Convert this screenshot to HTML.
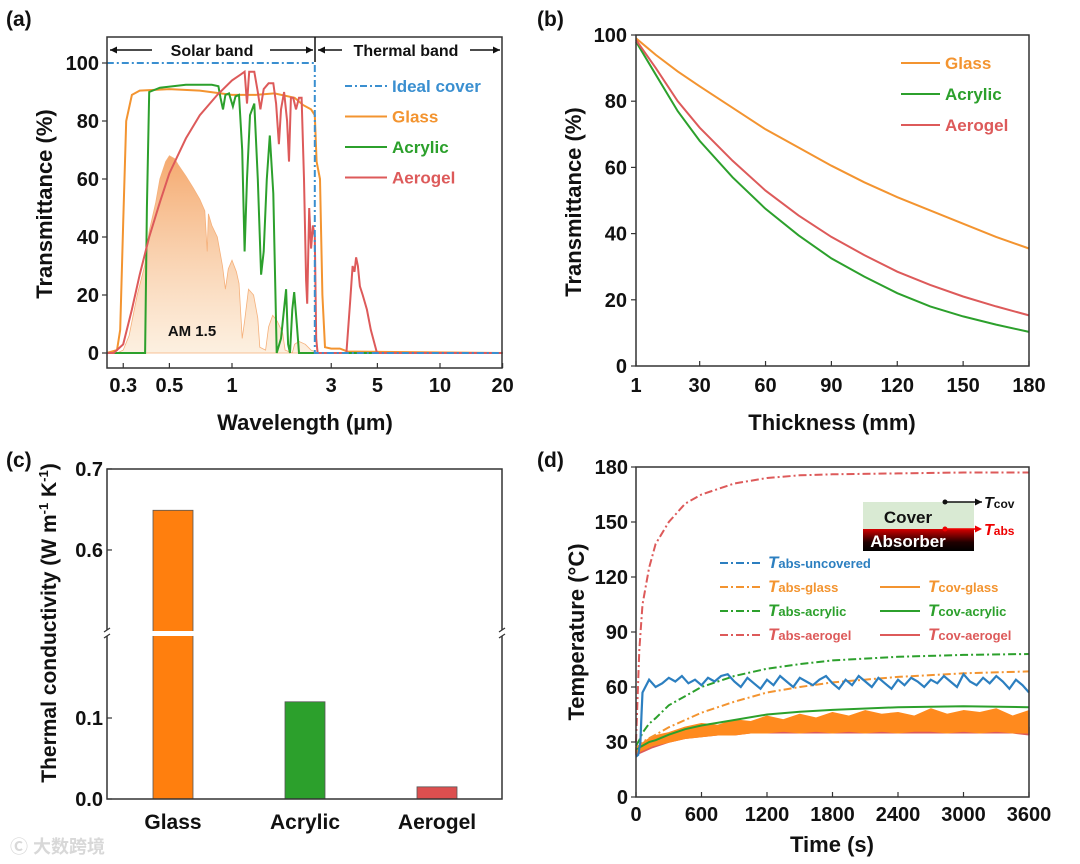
<!DOCTYPE html>
<html><head><meta charset="utf-8">
<style>
html,body{margin:0;padding:0;background:#fff;}
svg{display:block;font-family:"Liberation Sans",Arial,sans-serif;font-weight:bold;}
</style></head>
<body>
<svg id="fig" width="1080" height="864" viewBox="0 0 1080 864" xmlns="http://www.w3.org/2000/svg">
<defs>
<linearGradient id="amg" x1="0" y1="0" x2="0" y2="1">
<stop offset="0" stop-color="#f39a55" stop-opacity="0.85"/>
<stop offset="1" stop-color="#fbe6cc" stop-opacity="0.6"/>
</linearGradient>
<linearGradient id="absg" x1="0" y1="0" x2="0" y2="1">
<stop offset="0" stop-color="#d40000"/>
<stop offset="0.6" stop-color="#200000"/>
<stop offset="1" stop-color="#000"/>
</linearGradient>
</defs>
</svg>
<script>
// ---------- Panel (a) data ----------
const amWl  = [0.28,0.30,0.32,0.35,0.38,0.40,0.43,0.45,0.48,0.50,0.53,0.55,0.60,0.65,0.70,0.74,0.76,0.77,0.80,0.85,0.90,0.93,0.96,1.00,1.05,1.08,1.12,1.15,1.20,1.27,1.33,1.36,1.45,1.50,1.57,1.65,1.75,1.80,1.95,2.00,2.10,2.25,2.40,2.50];
const amVal = [0,1,6,20,30,42,52,60,66,68,67,65,61,57,53,49,35,48,44,40,30,22,29,32,28,24,5,11,22,20,12,2,1,9,13,11,7,1,0,3,4,3,1,0.5];
const glassWl  = [0.25,0.28,0.29,0.30,0.31,0.33,0.36,0.5,0.7,1.0,1.3,1.6,2.0,2.2,2.4,2.5,2.55,2.65,2.72,2.8,3.0,3.3,3.6,4.0,20];
const glassVal = [0,1,8,45,80,89,90.5,91,90.5,89,89,89.5,88,85.5,84,82,66,60,20,2,1.5,1.5,0.5,0.5,0];
const acrWl  = [0.25,0.382,0.39,0.40,0.45,0.6,0.8,0.86,0.88,0.905,0.93,0.967,1.01,1.04,1.08,1.12,1.15,1.18,1.22,1.28,1.33,1.38,1.42,1.47,1.52,1.58,1.64,1.72,1.82,1.86,1.90,1.95,1.99,2.05,2.1,20];
const acrVal = [0,0,50,90,91.5,92.5,92.5,92,88,84,89,89.5,85,88.5,89,70,35,60,82,86,60,27,35,60,75,55,0,5,22,3,0,15,21,10,0,0];
const aerWl  = [0.25,0.27,0.30,0.33,0.36,0.40,0.45,0.50,0.60,0.70,0.85,1.00,1.10,1.15,1.18,1.21,1.28,1.33,1.37,1.42,1.50,1.58,1.63,1.68,1.72,1.78,1.84,1.88,1.92,1.97,2.03,2.10,2.16,2.22,2.27,2.30,2.35,2.40,2.45,2.50,2.54,2.58,3.55,3.70,3.80,3.88,3.95,4.03,4.12,4.25,4.45,4.65,4.98,20];
const aerVal = [0,0,3,15,27,40,52,62,74,82,89,94,96,97,86,97,97,90,84,91,93,93,86,72,84,90,80,66,88,88,84,88,88,60,25,17,50,36,44,40,5,0,0,18,30,28,33,30,23,20,15,8,0,0];
const idealWl  = [0.25,2.5,2.5,20];
const idealVal = [100,100,0,0];
const aTicksX = [0.3,0.5,1,3,5,10,20];
const aTickLabelsX = ["0.3","0.5","1","3","5","10","20"];
const aTicksY = [0,20,40,60,80,100];
// ---------- Panel (b) data ----------
const thick = [1,10,20,30,45,60,75,90,105,120,135,150,165,180];
const bGlass = [99,94,89,84.5,78,71.5,66,60.5,55.5,51,47,43,39,35.5];
const bAcrylic = [98,88,77,68,57,47.5,39.5,32.5,27,22,18,15,12.5,10.3];
const bAerogel = [98.5,90,80,72,62,53,45.5,39,33.5,28.5,24.5,21,18,15.3];
const bTicksX = [1,30,60,90,120,150,180];
const bTicksY = [0,20,40,60,80,100];
// ---------- Panel (c) data ----------
const cCats = ["Glass","Acrylic","Aerogel"];
const cVals = [0.649,0.12,0.015];
const cTicks = [0.0,0.1,0.6,0.7];
const cTickLabels = ["0.0","0.1","0.6","0.7"];
// ---------- Panel (d) data ----------
const dTicksX = [0,600,1200,1800,2400,3000,3600];
const dTicksY = [0,30,60,90,120,150,180];
const tSmooth = [0,30,60,120,180,300,450,600,900,1200,1500,1800,2400,3000,3600];
const absAerogel = [30,80,105,125,138,150,160,165,171,174,175.5,176,176.5,177,177];
const absAcrylic = [28,31,35,40,43,50,55,60,66,70,72.5,74.5,76.5,77.5,78];
const absGlass   = [27,28,30,32,34,38,42,46,52,57,60,62.5,65.5,67.5,68.5];
const covAcrylic = [26,27,28,30,31,34,37,39,42,45,46.5,47.5,49,49.5,49];
const tBand = [0,150,300,450,600,750,900,1050,1200,1350,1500,1650,1800,1950,2100,2250,2400,2550,2700,2850,3000,3150,3300,3450,3600];
const covGlassHi = [27,33,35,38,40,39,42,41,44,42,45,43,46,44,47,45,46,44,48,45,47,46,48,44,47];
const covGlassLo = [24,28,30,32,33,34,34,35,35,36,35,36,35,36,35,36,35,36,36,35,36,35,36,35,35];
const covAerHi = [26,30,33,35,36,37,37,38,38,39,38,39,38,39,39,38,39,38,39,38,39,38,39,38,38];
const covAerLo = [23,27,30,32,33,34,34,35,35,35,35,35,35,35,35,35,35,35,35,35,35,35,35,35,34];
const tUnc = [0,20,40,50,60,120,180,240,300,360,420,480,540,600,660,720,780,840,900,960,1020,1080,1140,1200,1260,1320,1380,1440,1500,1560,1620,1680,1740,1800,1860,1920,1980,2040,2100,2160,2220,2280,2340,2400,2460,2520,2580,2640,2700,2760,2820,2880,2940,3000,3060,3120,3180,3240,3300,3360,3420,3480,3540,3600];
const absUnc = [22,23,30,45,57,64,60,62,65,63,66,62,64,61,65,63,66,67,63,60,65,62,59,64,61,66,63,60,65,63,61,64,66,62,59,64,61,66,63,60,65,62,59,64,61,65,63,60,64,62,66,63,60,67,63,61,65,62,66,63,59,64,61,57];

const NS = "http://www.w3.org/2000/svg";
const svg = document.getElementById('fig');
function mk(tag, attrs, parent){
  const e = document.createElementNS(NS, tag);
  for (const k in attrs) e.setAttribute(k, attrs[k]);
  (parent||svg).appendChild(e);
  return e;
}
function txt(s, x, y, size, anchor, fill, parent){
  const t = mk('text', {x:x, y:y, 'font-size':size, 'text-anchor':anchor||'middle', fill:fill||'#111'}, parent);
  t.textContent = s;
  return t;
}
function pathFrom(xs, ys, fx, fy){
  return xs.map((v,i)=>(i?'L':'M')+fx(v).toFixed(1)+','+fy(ys[i]).toFixed(1)).join(' ');
}
function grp(){ return mk('g', {}); }

// ================= Panel (a) =================
const xa = v => 232 + 208*Math.log10(v);
const ya = v => 353 - 2.9*v;
let pa = grp();


let la = txt('(a)', 6, 26, 21, 'start', '#111', pa);


let amd = pathFrom(amWl, amVal, xa, ya) + ' L' + xa(amWl[amWl.length-1]).toFixed(1) + ',' + ya(0) + ' L' + xa(amWl[0]).toFixed(1) + ',' + ya(0) + ' Z';
let am = mk('path', {d:amd, fill:'url(#amg)', stroke:'#f5b07a', 'stroke-width':0.8}, pa);


let amt = txt('AM 1.5', 192, 336, 15, 'middle', '#111', pa);


const aSeries = [
  {n:'glass-line', x:glassWl, y:glassVal, c:'#f39430', d:null},
  {n:'acrylic-line', x:acrWl, y:acrVal, c:'#2ca02c', d:null},
  {n:'aerogel-line', x:aerWl, y:aerVal, c:'#dd5a5a', d:null},
  {n:'ideal-cover-line', x:idealWl, y:idealVal, c:'#3a8fd0', d:'7,3,2,3'}
];
aSeries.forEach(s=>{
  const p = mk('path', {d:pathFrom(s.x, s.y, xa, ya), fill:'none', stroke:s.c, 'stroke-width':2}, pa);
  if (s.d) p.setAttribute('stroke-dasharray', s.d);
  
  
});
let fa = mk('rect', {x:107, y:37, width:395, height:331, fill:'none', stroke:'#333', 'stroke-width':1.5}, pa);


mk('line', {x1:315, y1:37, x2:315, y2:62, stroke:'#111', 'stroke-width':1.5}, pa);
function arrow(x1, x2, y, parent){
  mk('line', {x1:x1, y1:y, x2:x2, y2:y, stroke:'#111', 'stroke-width':1.5}, parent);
  const dir = x2 > x1 ? 1 : -1;
  mk('path', {d:`M${x2},${y} L${x2-dir*7},${y-3.5} L${x2-dir*7},${y+3.5} Z`, fill:'#111'}, parent);
}
let bandg = mk('g', {}, pa);


arrow(152, 110, 50, bandg); arrow(270, 313, 50, bandg);
txt('Solar band', 212, 56, 16, 'middle', '#111', bandg);
arrow(342, 318, 50, bandg); arrow(470, 500, 50, bandg);
txt('Thermal band', 406, 56, 16, 'middle', '#111', bandg);
aTicksX.forEach((v,i)=>{
  mk('line', {x1:xa(v), y1:368, x2:xa(v), y2:363, stroke:'#333', 'stroke-width':1.2}, pa);
  const t = txt(aTickLabelsX[i], xa(v), 392, 20, 'middle', '#111', pa);
  
  
});
aTicksY.forEach(v=>{
  mk('line', {x1:107, y1:ya(v), x2:102, y2:ya(v), stroke:'#333', 'stroke-width':1.2}, pa);
  const t = txt(String(v), 99, ya(v)+7, 20, 'end', '#111', pa);
  
  
});
let xta = txt('Wavelength (µm)', 305, 430, 22, 'middle', '#111', pa);


let yta = txt('Transmittance (%)', 0, 0, 22, 'middle', '#111', pa);
yta.setAttribute('transform','translate(52,204) rotate(-90)');


const aLeg = [['Ideal cover','#3a8fd0','7,3,2,3'],['Glass','#f39430',null],['Acrylic','#2ca02c',null],['Aerogel','#dd5a5a',null]];
aLeg.forEach((l,i)=>{
  const g = mk('g', {}, pa);
  
  
  const y = 86 + i*30.5;
  const ln = mk('line', {x1:345, y1:y, x2:387, y2:y, stroke:l[1], 'stroke-width':2}, g);
  if (l[2]) ln.setAttribute('stroke-dasharray', l[2]);
  txt(l[0], 392, y+6, 17, 'start', l[1], g);
});

// ================= Panel (b) =================
const xb = v => 636 + (v-1)*(393/179);
const yb = v => 366 - 3.31*v;
let pb = grp();


let lb = txt('(b)', 537, 26, 21, 'start', '#111', pb);


const bSeries = [['glass-curve',bGlass,'#f39430'],['acrylic-curve',bAcrylic,'#2ca02c'],['aerogel-curve',bAerogel,'#dd5a5a']];
bSeries.forEach(s=>{
  const p = mk('path', {d:pathFrom(thick, s[1], xb, yb), fill:'none', stroke:s[2], 'stroke-width':2}, pb);
  
  
});
let fb = mk('rect', {x:636, y:35, width:393, height:331, fill:'none', stroke:'#333', 'stroke-width':1.5}, pb);


bTicksX.forEach(v=>{
  mk('line', {x1:xb(v), y1:366, x2:xb(v), y2:361, stroke:'#333', 'stroke-width':1.2}, pb);
  const t = txt(String(v), xb(v), 392, 20, 'middle', '#111', pb);
  
  
});
bTicksY.forEach(v=>{
  mk('line', {x1:636, y1:yb(v), x2:631, y2:yb(v), stroke:'#333', 'stroke-width':1.2}, pb);
  const t = txt(String(v), 627, yb(v)+7, 20, 'end', '#111', pb);
  
  
});
let xtb = txt('Thickness (mm)', 832, 430, 22, 'middle', '#111', pb);


let ytb = txt('Transmittance (%)', 0, 0, 22, 'middle', '#111', pb);
ytb.setAttribute('transform','translate(581,202) rotate(-90)');


const bLeg = [['Glass','#f39430'],['Acrylic','#2ca02c'],['Aerogel','#dd5a5a']];
bLeg.forEach((l,i)=>{
  const g = mk('g', {}, pb);
  
  
  const y = 63 + i*31;
  mk('line', {x1:901, y1:y, x2:940, y2:y, stroke:l[1], 'stroke-width':2}, g);
  txt(l[0], 945, y+6, 17, 'start', l[1], g);
});

// ================= Panel (c) =================
const yc = v => v <= 0.3 ? 799 - 810*v : 633 - (v-0.4975)*810;
const cX = [173,305,437];
const cCol = ['#ff7f0e','#2ca02c','#dc4f4f'];
let pc = grp();


let lc = txt('(c)', 6, 467, 21, 'start', '#111', pc);


cVals.forEach((v,i)=>{
  const top = yc(v);
  const b = mk('rect', {x:cX[i]-20, y:top, width:40, height:799-top, fill:cCol[i], stroke:'#555', 'stroke-width':0.8}, pc);
  
  
  const t = txt(cCats[i], cX[i], 829, 21, 'middle', '#111', pc);
  
  
});
mk('rect', {x:150, y:631, width:46, height:5, fill:'#fff'}, pc);
let fc = mk('rect', {x:107, y:469, width:395, height:330, fill:'none', stroke:'#333', 'stroke-width':1.5}, pc);


[107,502].forEach(x=>{
  mk('rect', {x:x-3, y:630, width:6, height:6, fill:'#fff'}, pc);
  mk('line', {x1:x-3, y1:632, x2:x+3, y2:628, stroke:'#333', 'stroke-width':1.2}, pc);
  mk('line', {x1:x-3, y1:638, x2:x+3, y2:634, stroke:'#333', 'stroke-width':1.2}, pc);
});
cTicks.forEach((v,i)=>{
  mk('line', {x1:107, y1:yc(v), x2:112, y2:yc(v), stroke:'#333', 'stroke-width':1.2}, pc);
  const t = txt(cTickLabels[i], 103, yc(v)+7, 20, 'end', '#111', pc);
  
  
});
let ytc = mk('text', {'font-size':21, 'text-anchor':'middle', fill:'#111', transform:'translate(56,623) rotate(-90)'}, pc);
ytc.innerHTML = 'Thermal conductivity (W m<tspan dy="-8" font-size="13">-1</tspan><tspan dy="8"> K</tspan><tspan dy="-8" font-size="13">-1</tspan><tspan dy="8">)</tspan>';


let wm = txt('Ⓒ 大数跨境', 10, 853, 18, 'start', '#d8d8d8', pc);
wm.setAttribute('font-family','"Liberation Sans","Noto Sans CJK SC",sans-serif');



// ================= Panel (d) =================
const xd = t => 636 + t*393/3600;
const yd = v => 797 - v*330/180;
let pd = grp();


let ld = txt('(d)', 537, 467, 21, 'start', '#111', pd);


function band(hi, lo, col, name){
  const d = pathFrom(tBand, hi, xd, yd) + ' ' + tBand.slice().reverse().map((t,i)=>'L'+xd(t).toFixed(1)+','+yd(lo[lo.length-1-i]).toFixed(1)).join(' ') + ' Z';
  const p = mk('path', {d:d, fill:col, stroke:col, 'stroke-width':1.5, 'stroke-linejoin':'round'}, pd);
  
  
}
band(covAerHi, covAerLo, '#dd5a5a', 'tcov-aerogel-trace');
band(covGlassHi, covGlassLo, '#ff8a1e', 'tcov-glass-trace');
let ca = mk('path', {d:pathFrom(tSmooth, covAcrylic, xd, yd), fill:'none', stroke:'#2ca02c', 'stroke-width':2}, pd);


const dDash = [['tabs-glass-trace',absGlass,'#f39430'],['tabs-acrylic-trace',absAcrylic,'#2ca02c'],['tabs-aerogel-trace',absAerogel,'#dd5a5a']];
dDash.forEach(s=>{
  const p = mk('path', {d:pathFrom(tSmooth, s[1], xd, yd), fill:'none', stroke:s[2], 'stroke-width':2, 'stroke-dasharray':'8,3,2,3'}, pd);
  
  
});
let un = mk('path', {d:pathFrom(tUnc, absUnc, xd, yd), fill:'none', stroke:'#2c7fc0', 'stroke-width':2.2}, pd);


let fd = mk('rect', {x:636, y:467, width:393, height:330, fill:'none', stroke:'#333', 'stroke-width':1.5}, pd);


dTicksX.forEach(v=>{
  mk('line', {x1:xd(v), y1:797, x2:xd(v), y2:792, stroke:'#333', 'stroke-width':1.2}, pd);
  const t = txt(String(v), xd(v), 821, 20, 'middle', '#111', pd);
  
  
});
dTicksY.forEach(v=>{
  mk('line', {x1:636, y1:yd(v), x2:631, y2:yd(v), stroke:'#333', 'stroke-width':1.2}, pd);
  const t = txt(String(v), 628, yd(v)+7, 20, 'end', '#111', pd);
  
  
});
let xtd = txt('Time (s)', 832, 852, 22, 'middle', '#111', pd);


let ytd = txt('Temperature (°C)', 0, 0, 22, 'middle', '#111', pd);
ytd.setAttribute('transform','translate(584,632) rotate(-90)');


let ins = mk('g', {}, pd);


mk('rect', {x:863, y:502, width:111, height:27, fill:'#d9ead3'}, ins);
mk('rect', {x:863, y:529, width:111, height:22, fill:'url(#absg)'}, ins);
txt('Cover', 908, 523, 17, 'middle', '#111', ins);
txt('Absorber', 908, 547, 17, 'middle', '#fff', ins);
mk('circle', {cx:945, cy:502, r:2.5, fill:'#111'}, ins);
arrow(945, 982, 502, ins);
let tc = mk('text', {x:984, y:508, 'font-size':16, fill:'#111'}, ins);
tc.innerHTML = '<tspan font-style="italic">T</tspan><tspan font-size="12">cov</tspan>';
mk('circle', {cx:945, cy:529, r:2.5, fill:'#e00'}, ins);
mk('line', {x1:945, y1:529, x2:975, y2:529, stroke:'#e00', 'stroke-width':1.5}, ins);
mk('path', {d:'M982,529 L975,525.5 L975,532.5 Z', fill:'#e00'}, ins);
let ta = mk('text', {x:984, y:535, 'font-size':16, fill:'#e00'}, ins);
ta.innerHTML = '<tspan font-style="italic">T</tspan><tspan font-size="12">abs</tspan>';
const dLeg = [
  ['abs-uncovered','#2c7fc0',true,720,563],
  ['abs-glass','#f39430',true,720,587],['cov-glass','#f39430',false,880,587],
  ['abs-acrylic','#2ca02c',true,720,611],['cov-acrylic','#2ca02c',false,880,611],
  ['abs-aerogel','#dd5a5a',true,720,635],['cov-aerogel','#dd5a5a',false,880,635]
];
dLeg.forEach(l=>{
  const g = mk('g', {}, pd);
  
  
  const ln = mk('line', {x1:l[3], y1:l[4], x2:l[3]+40, y2:l[4], stroke:l[1], 'stroke-width':2}, g);
  if (l[2]) ln.setAttribute('stroke-dasharray','8,3,2,3');
  const t = mk('text', {x:l[3]+48, y:l[4]+5, 'font-size':13, fill:l[1]}, g);
  t.innerHTML = '<tspan font-style="italic" font-size="17">T</tspan>' + l[0];
});
</script>
</body></html>
